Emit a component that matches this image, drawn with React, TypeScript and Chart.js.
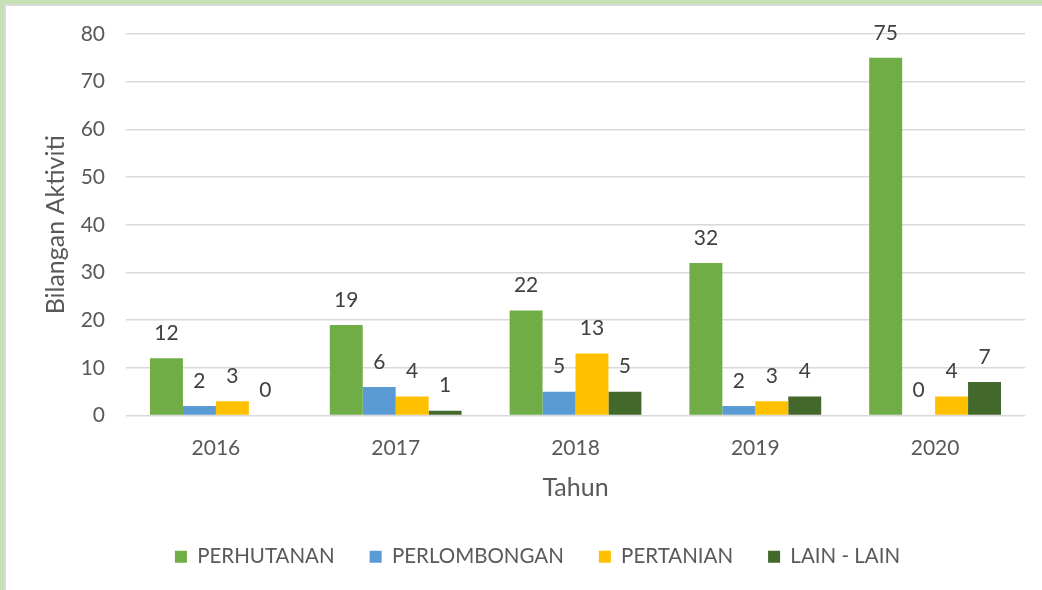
import React, { useEffect, useRef } from "react";
import { Chart, registerables } from "chart.js";

Chart.register(...registerables);

const categories = ["2016", "2017", "2018", "2019", "2020"];
const perhutanan = [12, 19, 22, 32, 75];
const perlombongan = [2, 6, 5, 2, 0];
const pertanian = [3, 4, 13, 3, 4];
const lainLain = [0, 1, 5, 4, 7];
const seriesNames = ["PERHUTANAN", "PERLOMBONGAN", "PERTANIAN", "LAIN - LAIN"];
const yTicks = [0, 10, 20, 30, 40, 50, 60, 70, 80];

const COLORS = ["#70AD47", "#5B9BD5", "#FFC000", "#43682B"];
const FONT = "Lato";
const TEXT = "#595959";

const dataLabelPlugin = {
  id: "dataLabels",
  afterDatasetsDraw(chart: any) {
    const ctx = chart.ctx;
    ctx.save();
    ctx.font = `21px ${FONT}`;
    ctx.fillStyle = "#404040";
    ctx.textAlign = "center";
    ctx.textBaseline = "middle";
    chart.data.datasets.forEach((ds: any, di: number) => {
      const meta = chart.getDatasetMeta(di);
      meta.data.forEach((el: any, i: number) => {
        ctx.fillText(String(ds.data[i]), el.x, el.y - 25);
      });
    });
    ctx.restore();
  },
};

export default function App() {
  const ref = useRef<HTMLCanvasElement>(null);
  useEffect(() => {
    if (!ref.current) return;
    const seriesValues = [perhutanan, perlombongan, pertanian, lainLain];
    const chart = new Chart(ref.current, {
      type: "bar",
      data: {
        labels: categories,
        datasets: seriesNames.map((name, i) => ({
          label: name,
          data: seriesValues[i],
          backgroundColor: COLORS[i],
          borderWidth: 0,
          categoryPercentage: 0.733,
          barPercentage: 1,
        })),
      },
      options: {
        responsive: false,
        animation: false,
        devicePixelRatio: 1,
        layout: { padding: { top: 34, left: 50, right: 17, bottom: 13 } },
        plugins: {
          tooltip: { enabled: false },
          legend: {
            position: "bottom",
            labels: {
              boxWidth: 12,
              boxHeight: 12,
              padding: 35,
              color: TEXT,
              font: { family: FONT, size: 20.5 },
            },
          },
        },
        scales: {
          x: {
            grid: { display: false },
            border: { display: false },
            ticks: { color: TEXT, font: { family: FONT, size: 21 }, padding: 12 },
            title: {
              display: true,
              text: "Tahun",
              color: TEXT,
              font: { family: FONT, size: 25 },
              padding: { top: 0, bottom: 9 },
            },
            afterFit: (s: any) => {
              s.height = 96;
            },
          },
          y: {
            min: 0,
            max: 80,
            afterBuildTicks: (s: any) => {
              s.ticks = yTicks.map((v) => ({ value: v }));
            },
            grid: { color: "#D9D9D9", lineWidth: 1.5, drawTicks: false },
            border: { display: false },
            ticks: { color: TEXT, font: { family: FONT, size: 21 }, padding: 21 },
            title: {
              display: true,
              text: "Bilangan Aktiviti",
              color: TEXT,
              font: { family: FONT, size: 25 },
              padding: { top: -9, bottom: 0 },
            },
            afterFit: (s: any) => {
              s.width = 76;
            },
          },
        },
      },
      plugins: [dataLabelPlugin],
    });
    return () => chart.destroy();
  }, []);

  return (
    <div style={{ position: "fixed", left: 0, top: 0, width: 1042, height: 590, background: "#fff" }}>
      <canvas ref={ref} width={1042} height={590} style={{ display: "block" }} />
      <div style={{ position: "absolute", left: 0, top: 0, width: 1042, height: 4, background: "#C5E0B4" }} />
      <div style={{ position: "absolute", left: 4, top: 4, width: 1038, height: 2, background: "#DADADA" }} />
      <div style={{ position: "absolute", left: 0, top: 0, width: 4, height: 590, background: "#C5E0B4" }} />
      <div style={{ position: "absolute", left: 4, top: 4, width: 2, height: 586, background: "#DADADA" }} />
    </div>
  );
}
